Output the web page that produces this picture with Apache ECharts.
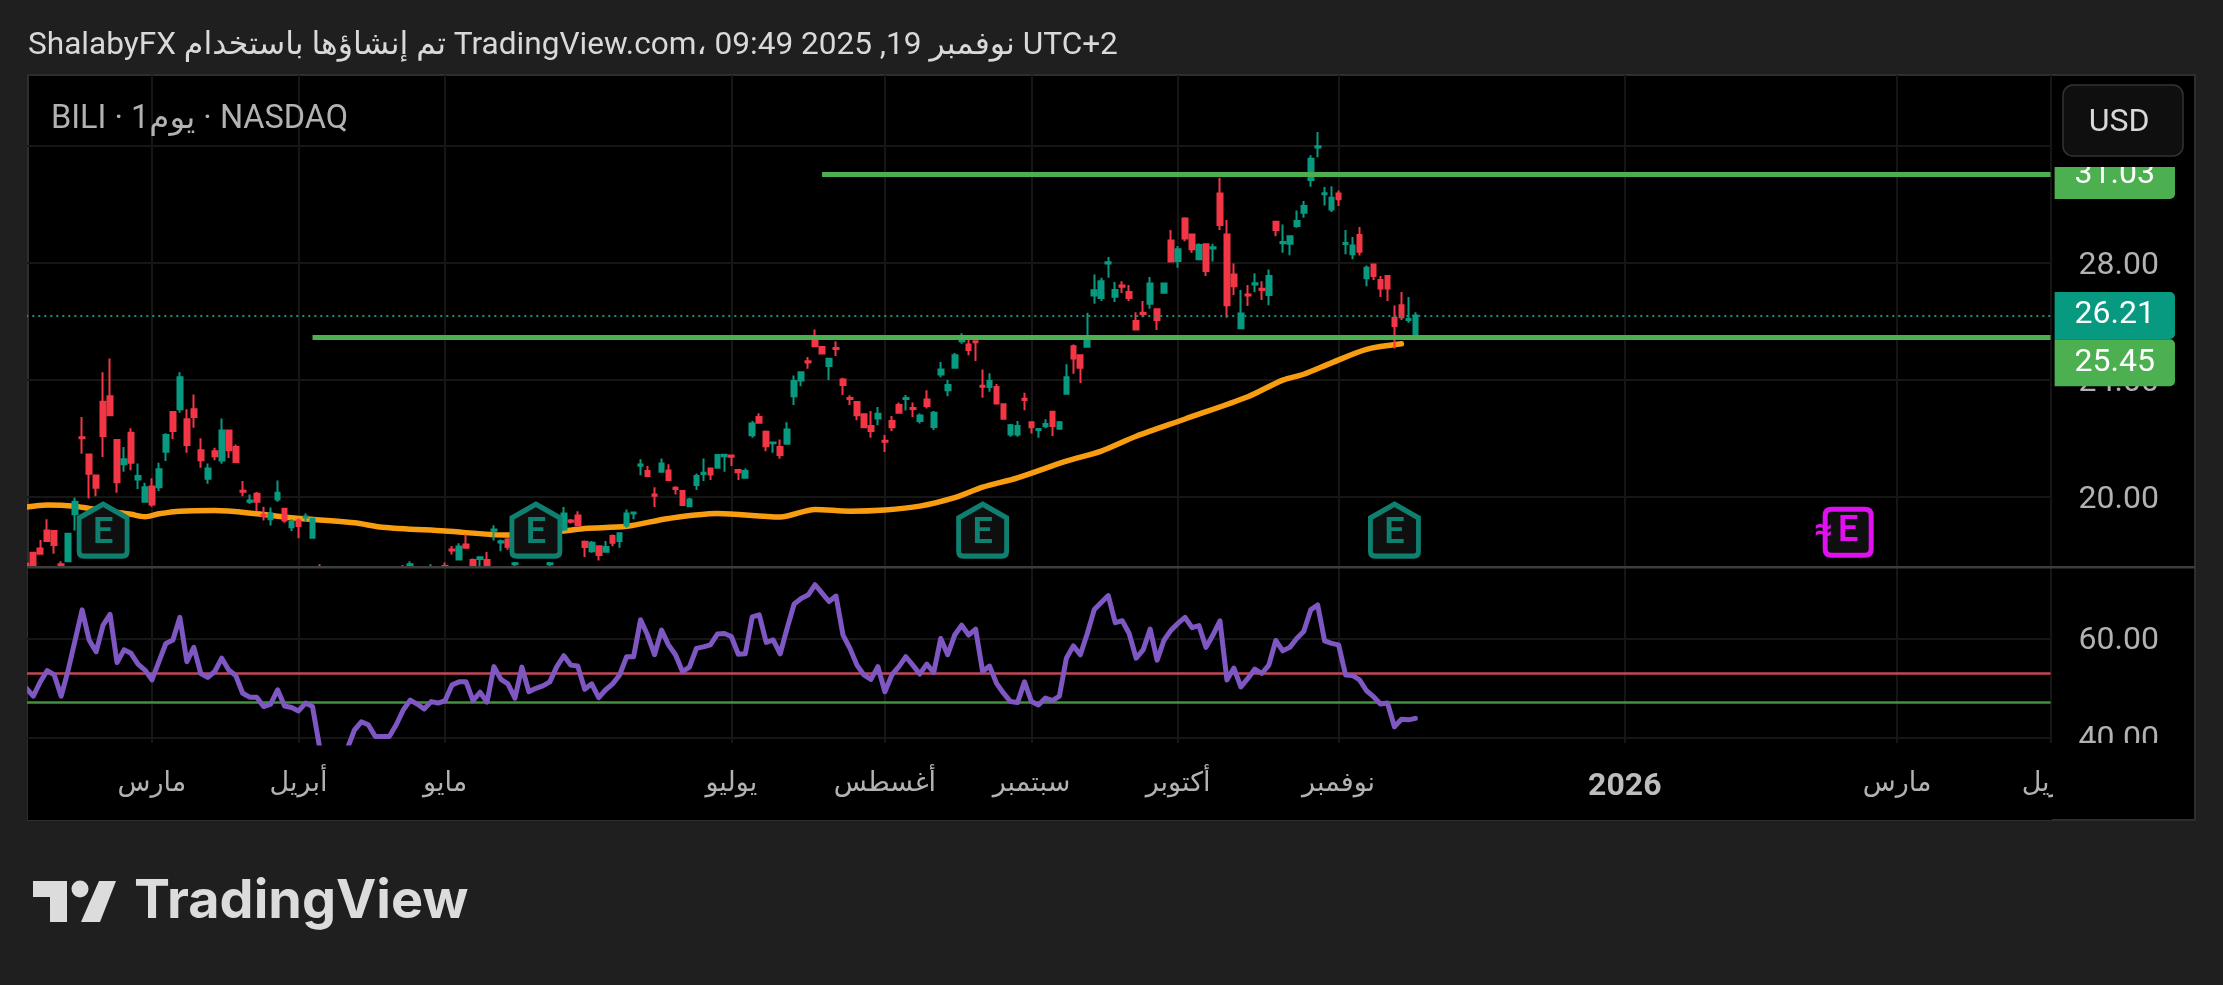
<!DOCTYPE html>
<html>
<head>
<meta charset="utf-8">
<style>html,body{margin:0;padding:0;background:#1f1f1f;}#chart{width:2223px;height:985px;}</style>
<script src="https://cdn.jsdelivr.net/npm/echarts@6/dist/echarts.min.js"></script>
</head>
<body>
<div id="chart"></div>
<script>
var FONT = 'Roboto, "DejaVu Sans", sans-serif';
var slotCount = 291;

// month ticks, as slots on the time axis
var tickSlots = [18, 39, 60, 101, 123, 144, 165, 188, 229, 268, 290];
var tickTexts = ['مارس', 'أبريل', 'مايو', 'يوليو', 'أغسطس', 'سبتمبر', 'أكتوبر', 'نوفمبر', '2026', 'مارس', 'أبريل'];

var priceTicks = [20, 24, 28, 32];
var rsiTicks = [40, 60];

// open, close, low, high
var candles = [
[17.72,17.68,17.60,17.75],[18.10,17.61,17.55,18.12],[18.24,18.06,18.04,18.53],[18.86,18.50,18.47,19.24],[18.84,18.36,18.06,18.86],
[17.70,17.45,17.30,17.81],[17.81,18.75,17.79,18.78],[19.41,19.84,18.86,19.98],[22.05,22.01,21.48,22.74],[21.46,20.80,19.95,21.48],
[20.74,20.32,20.03,20.77],[23.26,22.09,21.37,24.27],[23.45,22.80,22.78,24.74],[21.95,20.51,20.15,21.97],[21.12,21.29,20.87,21.71],
[22.20,21.17,20.92,22.35],[20.60,20.72,20.28,21.15],[19.84,20.34,19.81,20.49],[20.36,19.75,19.67,20.64],[20.34,20.95,20.21,21.17],
[21.55,22.12,21.23,22.18],[22.91,22.26,21.99,22.93],[23.00,24.10,22.88,24.27],[22.66,21.78,21.52,23.00],[23.00,22.74,22.37,23.51],
[21.60,21.26,21.00,22.01],[20.63,20.98,20.46,21.15],[21.57,21.40,21.26,21.69],[21.25,22.28,21.14,22.69],[22.28,21.60,21.34,22.30],
[21.71,21.20,21.17,21.80],[20.22,20.18,20.03,20.55],[19.84,19.88,19.77,20.09],[20.11,19.84,19.52,20.17],[19.40,19.36,19.20,19.67],
[19.24,19.44,19.03,19.64],[19.92,20.15,19.84,20.57],[19.60,19.20,19.12,19.62],[18.97,19.16,18.84,19.24],[19.20,19.01,18.59,19.27],
[19.30,19.34,19.16,19.44],[18.61,19.26,18.59,19.29],[17.40,17.00,16.70,17.70],[16.80,16.20,15.90,17.10],[16.00,15.60,15.20,16.40],
[15.40,15.90,15.10,16.20],[16.20,16.50,15.90,16.90],[16.60,16.90,16.30,17.10],[16.90,17.10,16.60,17.30],[17.00,16.80,16.50,17.20],
[16.70,16.50,16.30,16.90],[16.50,16.60,16.30,16.80],[16.60,16.70,16.40,16.90],[16.80,17.00,16.60,17.20],[17.20,17.40,17.00,17.68],
[17.30,17.70,17.20,17.81],[17.30,17.10,16.90,17.40],[17.00,17.20,16.90,17.40],[17.20,17.45,17.10,17.70],[17.30,17.20,17.00,17.50],
[17.64,17.30,17.20,17.76],[18.21,18.17,18.04,18.33],[17.87,18.31,17.85,18.42],[18.38,18.27,18.25,18.72],[17.85,17.40,17.30,17.90],
[17.88,17.94,17.50,17.98],[17.85,17.40,17.30,18.12],[18.85,18.89,18.52,19.04],[18.45,18.49,18.15,18.55],[18.55,18.30,18.20,18.61],
[17.70,17.74,17.30,17.78],[17.40,17.20,17.00,17.50],[17.20,17.30,17.00,17.50],[17.30,17.10,16.90,17.50],[17.20,17.30,17.00,17.50],
[17.70,17.74,17.40,17.78],[17.40,17.50,17.20,17.55],[18.89,19.44,18.84,19.66],[19.20,19.16,19.10,19.25],[19.37,19.03,19.01,19.52],
[18.47,18.29,17.95,18.52],[18.15,18.44,18.10,18.50],[18.32,18.02,17.83,18.34],[18.13,18.29,18.11,18.50],[18.67,18.44,18.32,18.72],
[18.50,18.76,18.27,18.78],[19.03,19.44,18.95,19.58],[19.44,19.47,19.24,19.48],[21.07,21.11,20.75,21.29],[20.89,20.72,20.70,21.06],
[20.09,20.05,19.66,20.34],[20.87,21.15,20.85,21.32],[20.91,20.58,20.56,21.12],[20.32,20.28,20.09,20.37],[20.21,19.73,19.71,20.23],
[19.69,19.92,19.66,19.98],[20.41,20.72,20.24,20.81],[20.79,20.83,20.55,21.32],[20.98,20.77,20.58,21.00],[21.00,21.44,20.98,21.46],
[21.40,21.45,20.87,21.46],[21.42,21.38,21.06,21.44],[20.93,20.85,20.58,20.95],[20.66,20.89,20.64,20.98],[22.11,22.52,22.03,22.60],
[22.74,22.54,22.52,22.87],[22.23,21.74,21.57,22.28],[21.84,21.87,21.52,21.88],[21.71,21.44,21.31,21.97],[21.82,22.31,21.80,22.56],
[23.45,23.97,23.15,24.16],[23.99,24.27,23.79,24.30],[24.64,24.60,24.39,24.79],[25.39,25.16,25.14,25.73],[25.13,24.91,24.89,25.15],
[24.48,24.73,24.00,24.75],[25.10,25.06,24.82,25.33],[24.02,23.83,23.49,24.08],[23.39,23.35,23.15,23.48],[23.25,22.80,22.63,23.27],
[22.83,22.39,22.37,22.85],[22.43,22.26,22.03,22.94],[22.69,22.85,22.46,23.08],[21.93,21.89,21.54,22.12],[22.60,22.39,22.26,22.77],
[23.15,22.88,22.86,23.23],[23.35,23.39,22.96,23.49],[23.05,23.01,22.74,23.23],[22.60,22.79,22.52,22.86],[23.34,23.11,23.03,23.65],
[22.40,22.88,22.29,22.94],[24.19,24.36,24.10,24.62],[23.65,23.83,23.45,24.00],[24.42,24.85,24.40,24.93],[25.33,25.42,25.24,25.60],
[25.22,25.03,24.85,25.53],[25.33,25.29,24.65,25.35],[23.81,23.77,23.40,24.36],[23.76,23.97,23.60,24.23],[23.76,23.20,23.18,23.87],
[23.17,22.68,22.66,23.20],[22.14,22.46,22.06,22.50],[22.14,22.43,22.06,22.60],[23.36,23.32,22.97,23.57],[22.56,22.39,22.17,22.58],
[22.29,22.33,22.03,22.36],[22.42,22.50,22.35,22.66],[22.92,22.43,22.09,22.95],[22.34,22.56,22.30,22.60],[23.53,24.10,23.50,24.54],
[25.16,24.74,24.22,25.22],[24.85,24.42,23.90,24.88],[25.14,25.45,25.12,26.30],[26.89,27.07,26.61,27.61],[26.81,27.38,26.70,27.50],
[27.99,28.03,27.50,28.21],[26.85,27.08,26.67,27.35],[27.23,27.19,26.98,27.38],[27.01,26.81,26.70,27.25],[26.02,25.73,25.71,26.32],
[26.30,26.26,26.15,26.70],[26.61,27.30,26.44,27.52],[26.42,26.05,25.71,26.44],[26.99,27.30,26.97,27.33],[28.77,28.05,28.03,29.13],
[28.07,28.47,27.84,28.58],[29.52,28.84,28.75,29.57],[28.98,28.47,28.35,29.00],[28.13,28.62,28.11,28.68],[28.64,27.73,27.56,28.67],
[28.50,28.54,28.05,28.66],[30.38,29.30,29.13,30.92],[28.98,26.56,26.13,29.47],[27.61,27.21,26.91,27.99],[25.77,26.28,25.75,27.08],
[26.93,26.89,26.53,27.25],[27.27,27.31,27.01,27.65],[27.12,27.08,26.74,27.38],[26.91,27.56,26.56,27.78],[29.41,29.13,28.92,29.44],
[28.68,28.72,28.35,29.32],[28.66,28.92,28.27,28.95],[29.27,29.44,29.21,29.80],[29.72,29.95,29.55,30.12],[30.84,31.57,30.61,31.69],
[31.95,31.99,31.62,32.48],[30.35,30.39,29.97,30.60],[29.83,30.23,29.75,30.63],[30.38,30.18,29.95,30.48],[28.65,28.69,28.30,29.13],
[28.30,28.60,28.13,28.89],[28.96,28.39,28.26,29.23],[27.48,27.84,27.21,27.92],[27.95,27.56,27.42,27.97],[27.42,27.13,26.84,27.56],
[27.56,27.13,26.70,27.58],[26.13,25.85,25.08,26.55],[26.56,26.15,26.05,27.01],[26.05,26.09,25.96,26.84],[25.56,26.21,25.50,26.32]
];

// moving average, read at the bends of the curve
var maSlots = [0,3,7,9,15,17,19,22,27,33,38,47,51,60,69,77,80,86,92,99,108,113,118,123,128,133,137,142,149,154,159,166,175,180,183,187,192,197];
var maValues = [19.66,19.73,19.69,19.61,19.41,19.33,19.43,19.52,19.54,19.43,19.29,19.12,18.97,18.84,18.70,18.84,18.93,19.00,19.27,19.44,19.32,19.58,19.52,19.56,19.69,19.98,20.34,20.66,21.23,21.57,22.08,22.67,23.43,24.00,24.20,24.59,25.05,25.24];

var rsiValues = [
50.0,48.4,51.3,53.6,52.7,48.4,53.7,59.8,65.9,59.8,57.4,62.8,65.0,55.2,57.8,57.1,54.9,53.7,51.7,55.4,
59.1,59.8,64.4,55.4,58.3,53.0,52.2,53.4,56.1,53.7,52.6,49.0,48.2,48.2,46.3,46.8,49.7,46.4,46.1,45.4,
47.0,46.3,38.2,33.0,31.0,34.0,37.8,41.5,43.2,42.6,40.2,40.2,40.2,42.6,45.6,47.6,46.8,45.8,47.3,47.0,
47.5,50.7,51.3,51.3,47.5,49.2,47.2,54.4,51.8,50.9,48.0,54.3,49.3,50.0,50.5,51.3,54.4,56.6,54.7,54.5,
49.8,50.9,48.1,49.7,50.9,52.7,56.4,56.4,63.9,60.8,56.8,61.8,58.8,56.8,53.4,54.3,58.1,58.4,58.8,61.0,
61.1,60.5,56.9,57.0,64.5,64.9,59.3,59.8,57.0,62.2,67.1,68.2,68.9,71.0,69.3,67.6,68.7,60.8,58.1,54.7,
52.7,51.8,54.4,49.3,52.7,54.4,56.4,54.7,52.9,54.9,53.2,60.1,56.8,60.8,62.8,60.8,62.0,53.4,54.5,51.0,
49.0,47.3,47.1,51.3,47.3,46.6,48.0,47.5,48.4,56.1,58.6,56.8,61.1,66.0,67.4,68.8,63.3,63.7,61.1,56.1,
57.8,62.0,55.7,59.8,61.8,63.2,64.4,62.3,62.7,58.3,60.8,63.7,51.7,54.1,50.3,52.0,53.9,53.0,54.7,59.7,
57.6,58.3,60.1,61.5,65.9,66.9,59.6,59.1,58.8,52.7,52.6,51.7,49.5,48.3,46.8,47.0,42.2,43.7,43.6,43.9
];

var lastPrice = 26.21;
var levelValues = [31.03, 25.45];
var levelStartSlots = [114, 41];
var rsiUpper = 53, rsiLower = 47.1;

var earningsSlots = [11, 73, 137, 196];
var earningsPrice = 18.87;
var nextEarningsSlot = 261;

var categories = [];
for (var i = 0; i < slotCount; ++i) categories.push(String(i));

var maData = [];
for (var m = 0; m < maSlots.length; ++m) maData.push([maSlots[m], maValues[m]]);

function tagLabel(price, color, dy) {
	return {
		show: true, position: 'end', distance: 4, offset: [0, dy],
		formatter: price.toFixed(2),
		color: '#fff', fontFamily: FONT, fontSize: 32, lineHeight: 37,
		backgroundColor: color, padding: [6, 20, 4, 20], borderRadius: [0, 5, 5, 0]
	};
}

var HOUSE = 'path://M26 0L52 15V52Q52 57 47 57H5Q0 57 0 52V15Z';
var BOX = 'path://M7 0H45Q52 0 52 7V45Q52 52 45 52H7Q0 52 0 45V7Q0 0 7 0Z';
var TEAL_E = '#0f7f70', PURPLE_E = '#e010f0';

var earningsMarks = [];
for (var e = 0; e < earningsSlots.length; ++e) {
	earningsMarks.push({
		coord: [earningsSlots[e], earningsPrice], symbol: HOUSE, symbolSize: [48, 52],
		itemStyle: {color: '#0f0f0f', borderColor: TEAL_E, borderWidth: 5},
		label: {show: true, position: 'inside', formatter: 'E', color: TEAL_E, fontFamily: FONT, fontWeight: 600, fontSize: 36, offset: [0, 4]}
	});
}
earningsMarks.push({
	coord: [nextEarningsSlot, 18.8], symbol: BOX, symbolSize: [46, 46],
	itemStyle: {color: '#0f0f0f', borderColor: PURPLE_E, borderWidth: 5},
	label: {show: true, position: 'inside', formatter: 'E', color: PURPLE_E, fontFamily: FONT, fontWeight: 600, fontSize: 36}
});
earningsMarks.push({
	coord: [nextEarningsSlot, 18.8], symbol: 'circle', symbolSize: 1,
	itemStyle: {color: 'transparent'},
	label: {show: true, position: 'inside', formatter: '≈', color: PURPLE_E, fontFamily: FONT, fontWeight: 700, fontSize: 32, offset: [-25, 0]}
});

function isTick(index) { return tickSlots.indexOf(index) >= 0; }

var GRID = '#161616', AXIS_TEXT = '#b2b2b2';
var gridLeft = 26.3, gridRight = 2223 - 2050.6;

var option = {
	backgroundColor: '#1f1f1f',
	animation: false,
	grid: [
		{left: gridLeft, right: gridRight, top: 75, height: 492},
		{left: gridLeft, right: gridRight, top: 568, height: 175}
	],
	xAxis: [
		{type: 'category', gridIndex: 0, data: categories, boundaryGap: false,
			axisLine: {show: false}, axisTick: {show: false}, axisLabel: {show: false},
			splitLine: {show: true, interval: function(i) { return isTick(i); }, lineStyle: {color: GRID, width: 2}}},
		{type: 'category', gridIndex: 1, z: 4, data: categories, boundaryGap: false,
			axisLine: {show: false}, axisTick: {show: false},
			splitLine: {show: true, interval: function(i) { return isTick(i); }, lineStyle: {color: GRID, width: 2}},
			axisLabel: {
				show: true, interval: function(i) { return isTick(i); }, margin: 28,
				color: AXIS_TEXT, fontFamily: FONT, fontSize: 27,
				formatter: function(v, i) {
					var t = tickTexts[tickSlots.indexOf(i)];
					return t === '2026' ? '{y|' + t + '}' : t;
				},
				rich: {y: {fontFamily: FONT, fontWeight: 700, fontSize: 32, color: '#bdbdbd'}}
			}}
	],
	yAxis: [
		{type: 'value', gridIndex: 0, position: 'right', min: 17.61, max: 34.43, scale: true,
			axisLine: {show: false},
			axisTick: {show: false, customValues: priceTicks},
			splitLine: {show: true, lineStyle: {color: GRID, width: 2}},
			axisLabel: {customValues: priceTicks, margin: 28, verticalAlign: 'top', lineHeight: 5, color: AXIS_TEXT, fontFamily: FONT, fontSize: 32,
				formatter: function(v) { return v.toFixed(2); }}},
		{type: 'value', gridIndex: 1, z: 4, position: 'right', min: 38.9, max: 74.4, scale: true,
			axisLine: {show: false},
			axisTick: {show: false, customValues: rsiTicks},
			splitLine: {show: true, lineStyle: {color: GRID, width: 2}},
			axisLabel: {customValues: rsiTicks, margin: 28, verticalAlign: 'top', lineHeight: 5, color: AXIS_TEXT, fontFamily: FONT, fontSize: 32,
				formatter: function(v) { return v.toFixed(2); }}}
	],
	series: [
		{type: 'line', name: 'MA', z: 2, xAxisIndex: 0, yAxisIndex: 0, data: maData, showSymbol: false, silent: true, smooth: 0.3,
			lineStyle: {color: '#f99d10', width: 5.5, cap: 'round', join: 'round'}},
		{type: 'candlestick', name: 'BILI', z: 2, xAxisIndex: 0, yAxisIndex: 0, data: candles, barWidth: 5.2,
			itemStyle: {color: '#089981', color0: '#f23645', borderColor: '#089981', borderColor0: '#f23645', borderWidth: 2},
			markLine: {
				silent: true, symbol: 'none', animation: false,
				data: [
					[{xAxis: 0, yAxis: lastPrice, lineStyle: {color: '#089981', width: 2, type: [2, 4]}, label: tagLabel(lastPrice, '#089981', 0)},
						{xAxis: slotCount - 1, yAxis: lastPrice}],
					[{xAxis: levelStartSlots[0], yAxis: levelValues[0], lineStyle: {color: '#4caf50', width: 5, type: 'solid'}, label: tagLabel(levelValues[0], '#4caf50', 1)},
						{xAxis: slotCount - 1, yAxis: levelValues[0]}],
					[{xAxis: levelStartSlots[1], yAxis: levelValues[1], lineStyle: {color: '#4caf50', width: 5, type: 'solid'}, label: tagLabel(levelValues[1], '#4caf50', 25)},
						{xAxis: slotCount - 1, yAxis: levelValues[1]}]
				]
			},
			markPoint: {silent: true, animation: false, data: earningsMarks}},
		{type: 'line', name: 'RSI', z: 5, xAxisIndex: 1, yAxisIndex: 1, data: rsiValues, showSymbol: false, silent: true,
			lineStyle: {color: '#7e57c2', width: 5, cap: 'round', join: 'round'},
			markLine: {
				silent: true, symbol: 'none', animation: false, label: {show: false},
				data: [
					[{xAxis: 0, yAxis: rsiUpper, lineStyle: {color: '#c2475a', width: 2.5, type: 'solid'}}, {xAxis: slotCount - 1, yAxis: rsiUpper}],
					[{xAxis: 0, yAxis: rsiLower, lineStyle: {color: '#43913f', width: 2.5, type: 'solid'}}, {xAxis: slotCount - 1, yAxis: rsiLower}]
				]
			}}
	],
	graphic: [
		// panel behind the panes
		{type: 'rect', z: -1, shape: {x: 28, y: 75, width: 2167, height: 745}, style: {fill: '#000', stroke: '#2e2e2e', lineWidth: 2}},
		// candles are cut at the bottom of the price pane
		{type: 'rect', z: 3, shape: {x: 28, y: 567, width: 2024, height: 253}, style: {fill: '#000'}},
		// things the frame hides
		{type: 'rect', z: 10, shape: {x: 0, y: 70, width: 27, height: 700}, style: {fill: '#1f1f1f'}},
		{type: 'rect', z: 10, shape: {x: 2053, y: 743, width: 141, height: 76}, style: {fill: '#000'}},
		{type: 'rect', z: 10, shape: {x: 2054, y: 77, width: 140, height: 90}, style: {fill: '#000'}},
		{type: 'rect', z: 11, shape: {x: 28, y: 566, width: 2167, height: 2.5}, style: {fill: '#3d3d3d'}},
		{type: 'rect', z: 11, shape: {x: 2063, y: 85, width: 120, height: 71, r: 10}, style: {fill: '#0f0f0f', stroke: '#333', lineWidth: 1.5}},
		{type: 'text', z: 12, x: 2119, y: 123, style: {text: 'USD', fill: '#d8d8d8', font: '32px ' + FONT, textAlign: 'center', textVerticalAlign: 'middle'}},
		// header and legend
		{type: 'text', z: 12, x: 28, y: 46, style: {text: 'ShalabyFX تم إنشاؤها باستخدام TradingView.com، 09:49 2025 ,19 نوفمبر UTC+2', fill: '#d9d9d9', font: '31.6px ' + FONT, textVerticalAlign: 'middle'}},
		{type: 'text', z: 12, x: 51, y: 120, style: {text: 'BILI · 1يوم · NASDAQ', fill: '#b2b2b2', font: '32.5px ' + FONT, textVerticalAlign: 'middle'}},
		// logo
		{type: 'polygon', z: 12, shape: {points: [[33, 881], [67, 881], [67, 922], [50, 922], [50, 897], [33, 897]]}, style: {fill: '#dcdcdc'}},
		{type: 'circle', z: 12, shape: {cx: 80, cy: 889, r: 8.5}, style: {fill: '#dcdcdc'}},
		{type: 'polygon', z: 12, shape: {points: [[99, 881], [116, 881], [100, 922], [81, 922]]}, style: {fill: '#dcdcdc'}},
		{type: 'text', z: 12, x: 134, y: 902, style: {text: 'TradingView', fill: '#dcdcdc', font: '700 54px Inter, ' + FONT, textVerticalAlign: 'middle'}}
	]
};

var chart = echarts.init(document.getElementById('chart'));
chart.setOption(option);
</script>
</body>
</html>
